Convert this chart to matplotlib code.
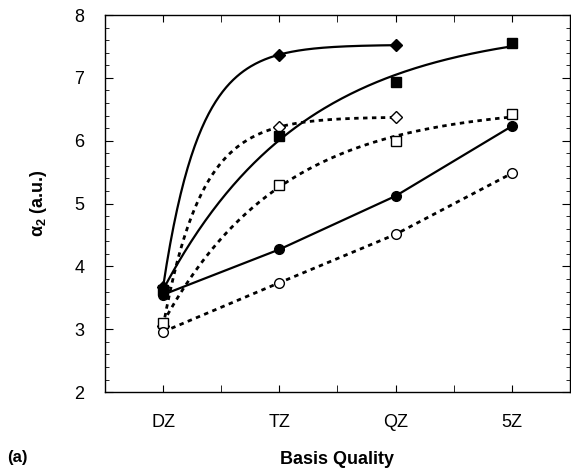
import numpy as np
import matplotlib
matplotlib.use("Agg")
import matplotlib.pyplot as plt
from matplotlib.ticker import MultipleLocator

plt.rcParams['font.family'] = ['Liberation Sans', 'DejaVu Sans']
plt.rcParams['mathtext.fontset'] = 'custom'
plt.rcParams['mathtext.rm'] = 'Liberation Sans:bold'
plt.rcParams['mathtext.it'] = 'Liberation Sans:bold'
plt.rcParams['mathtext.bf'] = 'Liberation Sans:bold'

# basis sets on the x axis
basis = ['DZ', 'TZ', 'QZ', '5Z']

# alpha_2 values
diam_filled = [3.68, 7.37, 7.52]
diam_open = [3.05, 6.22, 6.37]
sq_filled = [3.62, 6.07, 6.94, 7.56]
sq_open = [3.10, 5.30, 6.00, 6.42]
circ_filled = [3.55, 4.27, 5.12, 6.23]
circ_open = [2.96, 3.74, 4.51, 5.48]


def exp_fit(y):
    # fit y = a + b*r**n by scanning r, least squares for a, b
    n = np.arange(len(y))
    y = np.asarray(y)
    best = None
    for r in np.linspace(0.01, 0.95, 400):
        A = np.column_stack([np.ones(len(n)), r ** n])
        coef, res, _, _ = np.linalg.lstsq(A, y, rcond=None)
        err = np.sum((A @ coef - y) ** 2)
        if best is None or err < best[0]:
            best = (err, r, coef)
    _, r, (a, b) = best
    xs = np.linspace(0, len(y) - 1, 200)
    return xs, a + b * r ** xs


fig = plt.figure(figsize=(5.71, 4.69), dpi=100)
ax = fig.add_axes([0.184, 0.164, 0.814, 0.804])

solid = dict(color='black', lw=1.6)
dotted = dict(color='black', lw=2.0, linestyle=(0, (1.6, 1.6)))
mk = dict(color='black', linestyle='none', ms=7, zorder=3)

# curves
ax.plot(*exp_fit(diam_filled), **solid)
ax.plot(*exp_fit(diam_open), **dotted)
ax.plot(*exp_fit(sq_filled), **solid)
ax.plot(*exp_fit(sq_open), **dotted)
ax.plot(range(4), circ_filled, **solid)
ax.plot(range(4), circ_open, **dotted)

# markers
ax.plot(range(3), diam_filled, marker='D', ms=6.5, color='black', linestyle='none', zorder=3)
ax.plot(range(3), diam_open, marker='D', ms=6, mfc='white', mec='black', mew=1.0, linestyle='none', zorder=3)
ax.plot(range(4), sq_filled, marker='s', **mk)
ax.plot(range(4), sq_open, marker='s', mfc='white', mec='black', mew=1.0, linestyle='none', ms=7, zorder=3)
ax.plot(range(4), circ_filled, marker='o', **mk)
ax.plot(range(4), circ_open, marker='o', mfc='white', mec='black', mew=1.0, linestyle='none', ms=7, zorder=3)

ax.set_xlim(-0.5, 3.5)
ax.set_ylim(2, 8)
ax.set_xticks(range(4))
ax.set_xticklabels(basis)
ax.xaxis.set_minor_locator(MultipleLocator(0.5))
ax.yaxis.set_major_locator(MultipleLocator(1))
ax.yaxis.set_minor_locator(MultipleLocator(0.2))
ax.tick_params(which='both', direction='in', top=True, right=True, labelsize=13)
ax.tick_params(axis='y', which='major', length=6, pad=15)
ax.tick_params(axis='y', which='minor', length=3)
ax.tick_params(axis='x', which='both', length=5, pad=16)
for s in ax.spines.values():
    s.set_linewidth(1.0)

ax.set_xlabel('Basis Quality', fontsize=13, fontweight='bold', labelpad=14)
ax.set_ylabel(r'$\alpha_2$ (a.u.)', fontsize=13, fontweight='bold', labelpad=18)
fig.text(0.012, 0.015, '(a)', fontsize=12, fontweight='bold')

fig.savefig('out.png', dpi=100)
